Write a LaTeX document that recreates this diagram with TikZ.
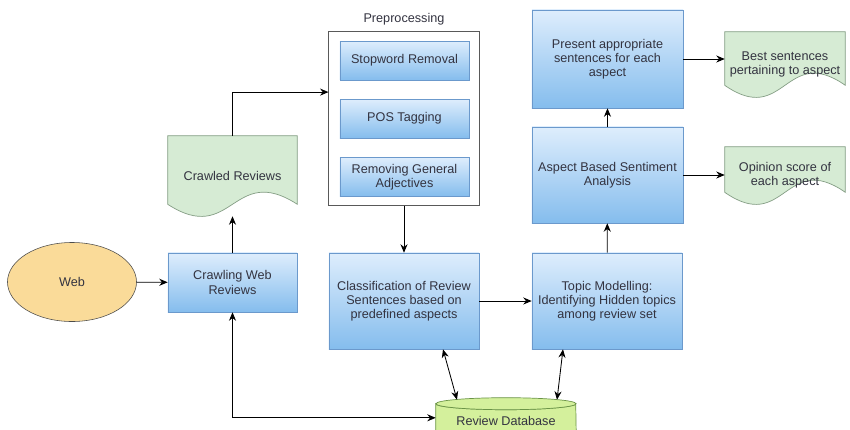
\documentclass[tikz,border=0pt]{standalone}
\usepackage{fontspec}
\setmainfont{Liberation Sans}
\usetikzlibrary{arrows.meta, calc, positioning, shapes.geometric, backgrounds}
\definecolor{boxtop}{rgb}{0.87,0.93,0.99}
\definecolor{boxbot}{rgb}{0.52,0.74,0.93}
\definecolor{boxline}{rgb}{0.42,0.60,0.80}
\definecolor{docgreen}{rgb}{0.84,0.92,0.83}
\definecolor{docline}{rgb}{0.52,0.62,0.52}
\definecolor{webfill}{rgb}{0.98,0.86,0.60}
\definecolor{dbfill}{rgb}{0.83,0.94,0.61}
\definecolor{dbline}{rgb}{0.42,0.58,0.28}
\definecolor{txt}{rgb}{0.2,0.2,0.25}

\tikzset{
	procbox/.style={draw=boxline, top color=boxtop, bottom color=boxbot, align=center, text=txt, inner sep=2pt},
	docnode/.style={align=center, text=txt, inner sep=2pt},
	arr/.style={-{Stealth[length=6pt,width=5pt]}, line width=0.6pt},
	darr/.style={{Stealth[length=6pt,width=5pt]}-{Stealth[length=6pt,width=5pt]}, line width=0.6pt}
}

% wavy document outline behind a node
\newcommand{\docwave}[1]{\filldraw[draw=docline, fill=docgreen, line width=0.5pt] (#1.north west) -- (#1.north east) -- ($(#1.south east)+(0,-12)$) .. controls ($(#1.south)+(0,-54)$) and ($(#1.south)+(0,30)$) .. ($(#1.south west)+(0,-12)$) -- cycle;}

\begin{document}
\begin{tikzpicture}[x=0.025cm, y=-0.025cm, font=\fontsize{9}{10}\selectfont]
	\useasboundingbox (0,0) rectangle (850,429);

	%--------------------------------------------------------------------
	\node(web) [ellipse, draw=black!70, fill=webfill, text=txt, minimum width=3.225cm, minimum height=1.975cm] at (72,282) {Web};
	\node(crawling) [procbox, minimum width=3.225cm, minimum height=1.475cm] at (232.5,282.5) {Crawling Web\\ Reviews};
	\node(crawled) [docnode, minimum width=3.225cm, minimum height=2cm] at (232.5,176) {Crawled Reviews};

	%--------------------------------------------------------------------
	\node(prep) [draw=black!65, fill=white, line width=0.7pt, minimum width=3.75cm, minimum height=4.325cm] at (404,118.5) {};
	\node(preplabel) [above=2pt of prep, text=txt, inner sep=2pt] {Preprocessing};
	\node(stop) [procbox, minimum width=3.225cm, minimum height=0.97cm] at (404.5,60.5) {Stopword Removal};
	\node(pos) [procbox, minimum width=3.225cm, minimum height=0.97cm, below=0.47cm of stop] {POS Tagging};
	\node(adj) [procbox, minimum width=3.225cm, minimum height=0.97cm, below=0.47cm of pos] {Removing General\\ Adjectives};

	%--------------------------------------------------------------------
	\node(class) [procbox, minimum width=3.75cm, minimum height=2.4cm] at (404,301) {Classification of Review\\ Sentences based on\\ predefined aspects};
	\node(topic) [procbox, minimum width=3.75cm, minimum height=2.4cm] at (607,301) {Topic Modelling:\\ Identifying Hidden topics\\ among review set};
	\node(aspect) [procbox, minimum width=3.775cm, minimum height=2.4cm] at (607.5,175) {Aspect Based Sentiment\\ Analysis};
	\node(present) [procbox, minimum width=3.775cm, minimum height=2.45cm] at (607.5,59) {Present appropriate\\ sentences for each\\ aspect};

	%--------------------------------------------------------------------
	\node(best) [docnode, minimum width=3cm, minimum height=1.625cm] at (785,64.5) {Best sentences\\ pertaining to aspect};
	\node(opinion) [docnode, minimum width=3cm, minimum height=1.425cm] at (785,175.5) {Opinion score of\\ each aspect};

	\node(db) [text=txt, minimum width=3.5cm, minimum height=0.85cm] at (506,421) {Review Database};

	\begin{scope}[on background layer]
		\docwave{crawled}
		\docwave{best}
		\docwave{opinion}
		\filldraw[draw=dbline, fill=dbfill, line width=0.5pt] (db.south west) -- (db.north west) arc[start angle=180, end angle=360, x radius=1.75cm, y radius=0.15cm] -- (db.south east) -- cycle;
		\filldraw[draw=dbline, fill=dbfill, line width=0.5pt] (db.north) ellipse [x radius=1.75cm, y radius=0.15cm];
	\end{scope}

	%--------------------------------------------------------------------
	\draw[arr] (web) -- (crawling);
	\draw[arr] (crawling) -- (crawled);
	\draw[arr] (crawled.north) |- ([yshift=0.66cm]prep.west);
	\draw[arr] (prep) -- (class);
	\draw[arr] (class) -- (topic);
	\draw[arr] (topic) -- (aspect);
	\draw[arr] (aspect) -- (present);
	\draw[arr] (present.east) -- (present.east -| best.west);
	\draw[arr] (aspect.east) -- (aspect.east -| opinion.west);
	\draw[darr] ([xshift=0.975cm]class.south) -- ([xshift=-1.225cm,yshift=0.1cm]db.north);
	\draw[darr] ([xshift=-1.1cm]topic.south) -- ([xshift=1.275cm,yshift=0.1cm]db.north);
	\draw[darr] ([yshift=0.08cm]db.west) -| (crawling.south);
\end{tikzpicture}
\end{document}
